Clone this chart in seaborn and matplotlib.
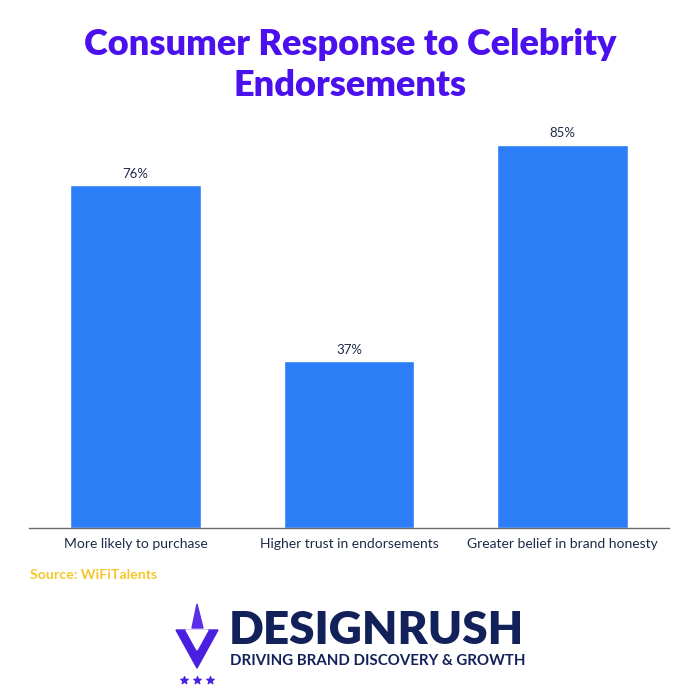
import pandas as pd
import seaborn as sns
import matplotlib.pyplot as plt
from matplotlib.patches import Polygon

# Datos
categorias = ['More likely to purchase', 'Higher trust in endorsements', 'Greater belief in brand honesty']
valores = [76, 37, 85]
etiquetas = ['76%', '37%', '85%']

datos = pd.DataFrame({'categoria': categorias, 'valor': valores})

sns.set_theme(style="white")
plt.rcParams['font.family'] = ['Lato', 'DejaVu Sans']

fig = plt.figure(figsize=(7, 7), dpi=100)
ax = fig.add_axes([0.041, 0.246, 0.915, 0.583])

sns.barplot(data=datos, x='categoria', y='valor', color='#2b7ef6', width=0.61,
            saturation=1, ax=ax)

for i, (v, t) in enumerate(zip(valores, etiquetas)):
    ax.text(i, v + 1.2, t, ha='center', va='bottom', fontsize=9.5, color='#1e2a4a')

ax.set_xlim(-0.5, 2.5)
ax.set_ylim(0, 90.5)
ax.set_xlabel('')
ax.set_ylabel('')
ax.set_yticks([])
ax.tick_params(axis='x', labelsize=10, labelcolor='#1e2a4a', length=0, pad=7)
for s in ['top', 'right', 'left']:
    ax.spines[s].set_visible(False)
ax.spines['bottom'].set_color('#6b6b6b')
ax.spines['bottom'].set_linewidth(1)

# Título
fig.text(0.5, 0.907, 'Consumer Response to Celebrity\nEndorsements', ha='center', va='center',
         fontsize=26, fontweight='heavy', color='#4a10ee', linespacing=1.3)

# Fuente
fig.text(0.043, 0.178, 'Source: WiFiTalents', ha='left', va='center', fontsize=10.2,
         fontweight='bold', color='#f7c62f')

# Logo aproximado
logo = fig.add_axes([0, 0, 1, 1], facecolor='none')
logo.set_xlim(0, 700)
logo.set_ylim(700, 0)
logo.axis('off')
logo.add_patch(Polygon([[176, 630], [218, 630], [197, 668]], closed=True, color='#4a1fe0'))
logo.add_patch(Polygon([[186, 630], [208, 630], [197, 650]], closed=True, color='white'))
logo.add_patch(Polygon([[192, 628], [197, 604], [203, 628]], closed=True, color='#5b2ee8'))
logo.scatter([184, 197, 210], [680, 680, 680], marker='*', s=30, color='#4a1fe0')
logo.text(229, 631, 'DESIGNRUSH', ha='left', va='center', fontsize=33, fontweight='heavy',
          color='#13215a')
logo.text(230, 661, 'DRIVING BRAND DISCOVERY & GROWTH', ha='left', va='center', fontsize=10.8,
          fontweight='bold', color='#13215a')

fig.savefig('out.png', dpi=100)
